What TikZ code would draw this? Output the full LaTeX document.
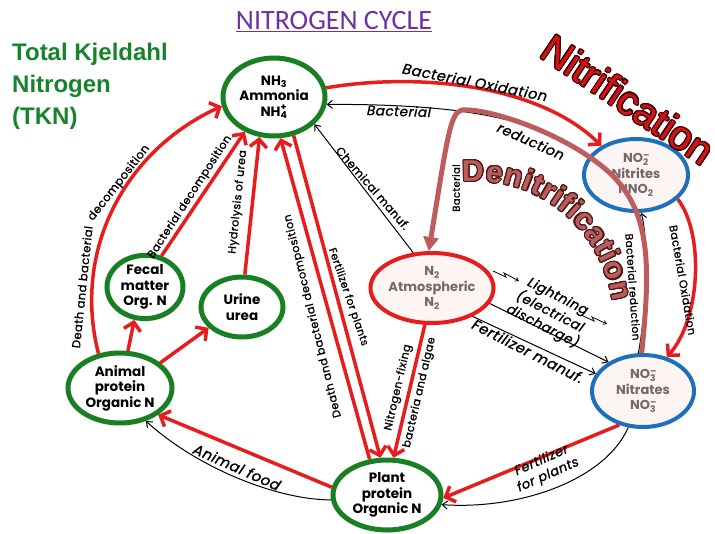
\documentclass[tikz,border=0pt]{standalone}
\usepackage{fontspec}
\setmainfont{Poppins}
\newfontfamily\labelfont{Poppins}[FakeBold=1.2,LetterSpace=4]
\newfontfamily\titlefont{Carlito}
\newfontfamily\arialfont{Liberation Sans}
\usepackage[copies]{contour}
\contourlength{1.1pt}
\contournumber{24}
\usetikzlibrary{arrows.meta,shapes.geometric}
\definecolor{cyclered}{RGB}{232,28,28}
\definecolor{cyclegreen}{RGB}{24,128,34}
\definecolor{cycleblue}{RGB}{30,112,186}
\definecolor{denitpink}{RGB}{188,92,92}
\definecolor{denitdark}{RGB}{80,25,25}
\definecolor{nitrired}{RGB}{205,22,22}
\definecolor{nitridark}{RGB}{70,0,0}
\definecolor{titlepurple}{RGB}{112,48,160}
\definecolor{tkngreen}{RGB}{22,132,44}
\definecolor{nodegray}{RGB}{118,104,104}
\definecolor{nodepink}{RGB}{253,244,244}

\begin{document}
\begin{tikzpicture}[x=1pt,y=1pt,yscale=-1,xscale=1,
	greennode/.style={ellipse,draw=cyclegreen,line width=5pt,fill=white,inner sep=0pt,align=center,font=\bfseries\fontsize{13.5}{15.5}\selectfont},
	bluenode/.style={ellipse,draw=cycleblue,line width=4pt,fill=nodepink,inner sep=0pt,align=center,text=nodegray,font=\bfseries\fontsize{13}{15.5}\selectfont},
	rednode/.style={ellipse,draw=cyclered,line width=4pt,fill=nodepink,inner sep=0pt,align=center,text=nodegray,font=\bfseries\fontsize{13}{15.5}\selectfont},
	redarrow/.style={draw=cyclered,line width=3.5pt,-{Straight Barb[length=8pt,width=17pt]}},
	blackarrow/.style={draw=black,line width=1pt,-{Straight Barb[length=5pt,width=8pt]}},
	denitarrow/.style={draw=denitpink,line width=5pt,-{Triangle[length=14pt,width=15pt]}},
	lbl/.style={inner sep=0pt,align=center,font=\labelfont\fontsize{#1}{#1}\selectfont},
	lbl/.default=11,
	itlbl/.style={inner sep=0pt,align=center,font=\labelfont\itshape\fontsize{#1}{16}\selectfont},
	letter/.style={anchor=base,inner sep=0pt,text=denitpink,font=\arialfont\bfseries\fontsize{30}{30}\selectfont}]
\useasboundingbox (0,0) rectangle (715,533);

% nodes
\node[greennode,minimum width=102pt,minimum height=78pt] (nh3) at (274,97) {NH\textsubscript{3}\\Ammonia\\NH\rlap{\textsuperscript{+}}\textsubscript{4}};
\node[bluenode,minimum width=104pt,minimum height=72pt] (nitrite) at (636,175) {NO\rlap{\textsuperscript{--}}\textsubscript{2}\\Nitrites\\HNO\textsubscript{2}};
\node[rednode,minimum width=100pt,minimum height=70pt] (ntwo) at (432,288) {N\textsubscript{2}\\Atmospheric\\N\textsubscript{2}};
\node[bluenode,minimum width=102pt,minimum height=72pt] (nitrate) at (643,391) {NO\rlap{\textsuperscript{--}}\textsubscript{3}\\Nitrates\\NO\rlap{\textsuperscript{--}}\textsubscript{3}};
\node[greennode,minimum width=108pt,minimum height=70pt] (plant) at (387,495) {Plant\\protein\\Organic N};
\node[greennode,minimum width=104pt,minimum height=70pt] (animal) at (120,388) {Animal\\protein\\Organic N};
\node[greennode,minimum width=76pt,minimum height=60pt] (fecal) at (145,287) {Fecal\\matter\\Org. N};
\node[greennode,minimum width=82pt,minimum height=60pt] (urine) at (242,307) {Urine\\urea};

% titles
\node[text=titlepurple,font=\titlefont\fontsize{28}{28}\selectfont] (title) at (334,22) {\underline{NITROGEN CYCLE}};
\node[anchor=north west,align=left,inner sep=0pt,text=tkngreen,font=\arialfont\bfseries\fontsize{24}{32}\selectfont] (tkn) at (12,43) {Total Kjeldahl\\Nitrogen\\(TKN)};
\node[rotate=-34,inner sep=0pt,text=nitrired,font=\arialfont\fontsize{40}{40}\selectfont] (nitri) at (628,100) {\contour{nitridark}{Nitrification}};
\coordinate (dc) at (475,320);
\foreach \ch/\a in {D/90.8,e/82.4,n/74.8,i/69,t/65,r/60.2,i/55.9,f/51.9,i/47.9,c/42.4,a/35.1,t/29.3,i/25.3,o/19.5,n/11.5}
	\node[letter,rotate=\a-90] (denit) at ([shift={(-\a:139)}]dc) {\contour{denitdark}{\ch}};

% black connectors
\draw[blackarrow] (nitrite.160) .. controls (540,120) and (470,104) .. (nh3.-8);
\draw[blackarrow] (nitrate.97) .. controls (648,300) and (648,240) .. (nitrite.-82);
\draw[blackarrow] (ntwo.118) -- (nh3.-34);
\draw[blackarrow] (ntwo.-15) -- (nitrate.140);
\draw[blackarrow] (ntwo.-35) -- (nitrate.160);
\draw[blackarrow] (plant.185) .. controls (280,500) and (200,470) .. (animal.-52);
\draw[blackarrow] (nitrate.-112) .. controls (605,480) and (520,510) .. (plant.-10);
\draw[line width=0.8pt,-{Straight Barb[length=3pt,width=4pt]}] (493,271) -- (506,277) -- (504,273) -- (519,281);
\draw[line width=0.8pt,-{Straight Barb[length=3pt,width=4pt]}] (581,315) -- (594,321) -- (592,317) -- (607,324);

% red connectors
\draw[redarrow] (nh3.10) .. controls (420,72) and (540,85) .. (nitrite.140);
\draw[redarrow] (nitrite.-30) .. controls (705,235) and (700,320) .. (nitrate.55);
\draw[redarrow] (ntwo.-101) -- (plant.80);
\draw[redarrow] (plant.116) -- (nh3.-81);
\draw[redarrow] (nh3.-63) -- (plant.100);
\draw[redarrow] (plant.172) -- (animal.-35);
\draw[redarrow] (nitrate.-125) -- (plant.-3);
\draw[redarrow] (animal.122) .. controls (72,250) and (125,150) .. (nh3.190);
\draw[redarrow] (animal.78) -- (fecal.-108);
\draw[redarrow] (animal.32) -- (urine.212);
\draw[redarrow] (fecal.62) -- (nh3.-130);
\draw[redarrow] (urine.85) -- (nh3.-110);

% denitrification
\draw[denitarrow] (nitrate.92) .. controls (650,270) and (652,215) .. (612,175) .. controls (570,135) and (490,108) .. (462,110) .. controls (450,112) and (447,140) .. (ntwo.95);

% labels
\node[itlbl=14.5,rotate=-11] (l1) at (475,82) {Bacterial Oxidation};
\node[itlbl=13.5,rotate=-2] (l2) at (399,111) {Bacterial};
\node[itlbl=14,rotate=-24] (l3) at (531,141) {reduction};
\node[lbl=10,rotate=90] (l4) at (456,188) {Bacterial};
\node[lbl=11,rotate=-80] (l5) at (683,280) {Bacterial Oxidation};
\node[lbl=10.5,rotate=-86] (l6) at (633,287) {Bacterial reduction};
\node[itlbl=13.5,rotate=-27] (l7) at (550,312) {Lightning\\(electrical\\discharge)};
\node[itlbl=14.5,rotate=-27] (l8) at (528,351) {Fertilizer manuf.};
\node[lbl=11.5,rotate=-49] (l9) at (373,188) {Chemical manuf.};
\node[lbl,rotate=77,font=\labelfont\fontsize{11}{22}\selectfont] (l10) at (409,390) {Nitrogen-fixing\\bacteria and algae};
\node[lbl=10.5,rotate=-71] (l11) at (348,297) {Fertilizer for plants};
\node[lbl=11,rotate=104] (l12) at (313,316) {Death and bacterial decomposition};
\node[itlbl=14.5,rotate=-24] (l13) at (237,467) {Animal food};
\node[itlbl=13,rotate=24] (l14) at (545,468) {Fertilizer\\for plants};
\node[lbl=11.5,rotate=84] (l15) at (82,287) {Death and bacterial};
\node[lbl=11.5,rotate=52] (l16) at (119,183) {decomposition};
\node[lbl=11,rotate=57] (l17) at (190,197) {Bacterial decomposition};
\node[lbl=11,rotate=84] (l18) at (238,202) {Hydrolysis of urea};
\end{tikzpicture}
\end{document}
